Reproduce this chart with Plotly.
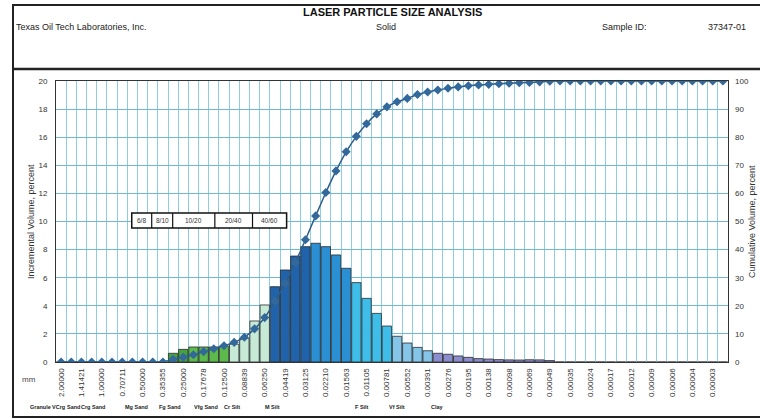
import plotly.graph_objects as go

# ---------------- data ----------------
size_labels = ["2.00000", "1.41421", "1.00000", "0.70711", "0.50000", "0.35355", "0.25000",
               "0.17678", "0.12500", "0.08839", "0.06250", "0.04419", "0.03125", "0.02210",
               "0.01563", "0.01105", "0.00781", "0.00552", "0.00391", "0.00276", "0.00195",
               "0.00138", "0.00098", "0.00069", "0.00049", "0.00035", "0.00024", "0.00017",
               "0.00012", "0.00009", "0.00006", "0.00004", "0.00003"]

incremental = [0, 0, 0, 0, 0, 0, 0, 0, 0, 0, 0,
               0.62, 0.90, 1.07, 1.07, 1.07, 1.12, 1.27, 1.69, 2.92, 4.06,
               5.36, 6.55, 7.54, 8.21, 8.45, 8.21, 7.62, 6.67, 5.65, 4.53,
               3.46, 2.56, 1.83, 1.35, 1.04, 0.80, 0.62, 0.55, 0.43, 0.33,
               0.24, 0.21, 0.17, 0.15, 0.14, 0.16, 0.15, 0.10,
               0, 0, 0, 0, 0, 0, 0, 0, 0, 0, 0, 0, 0, 0, 0, 0, 0]

cumulative = [0, 0, 0, 0, 0, 0, 0, 0, 0, 0, 0,
              1.0, 1.7, 2.6, 3.7, 4.7, 5.8, 7.0, 8.8, 11.8, 15.8,
              21.6, 28.0, 35.4, 43.5, 52.0, 60.3, 68.0, 74.8, 80.3, 84.8,
              88.3, 90.8, 92.6, 93.8, 95.2, 96.1, 96.8, 97.4, 97.9, 98.3,
              98.6, 98.8, 99.0, 99.2, 99.4, 99.5, 99.7, 99.9,
              100, 100, 100, 100, 100, 100, 100, 100, 100, 100, 100, 100, 100, 100, 100, 100, 100]

size_classes = ["Granule", "VCrg", "Sand", "Crg Sand", "Mg Sand", "Fg Sand", "Vfg Sand",
                "Cr Silt", "M Silt", "F Silt", "Vf Silt", "Clay"]

sieve_labels = ["6/8", "8/10", "10/20", "20/40", "40/60"]

# ---------------- layout helpers ----------------
W, H = 760, 419
PL, PR, PT, PB = 56, 728, 81, 362


def px(x):
    return (x - PL) / (PR - PL)


def py(y):
    return (PB - y) / (PB - PT)


n = len(incremental)
xs = list(range(n))


def bar_color(i):
    if i <= 12:
        return "#45a23e"
    if i <= 16:
        return "#5cba4a"
    if i <= 20:
        return "#c6ead5"
    if i <= 24:
        return "#2163ab"
    if i <= 28:
        return "#2a8fd3"
    if i <= 32:
        return "#3dbde7"
    if i <= 36:
        return "#84c5e8"
    return "#8c8dcf"


FONT = "Liberation Sans, Arial, sans-serif"
TXT = "#2a2a2a"

fig = go.Figure()
fig.add_trace(go.Bar(
    x=xs, y=incremental,
    marker=dict(color=[bar_color(i) for i in xs], line=dict(color="#2a2a2a", width=0.8)),
    showlegend=False, hoverinfo="skip"))
fig.add_trace(go.Scatter(
    x=xs, y=cumulative, yaxis="y2", mode="lines+markers",
    line=dict(color="#2c5d88", width=1.5, shape="spline", smoothing=0.5),
    marker=dict(symbol="diamond", size=7, color="#33689a"),
    showlegend=False, hoverinfo="skip"))

fig.update_layout(
    width=W, height=H,
    margin=dict(l=PL, r=W - PR, t=PT, b=H - PB, pad=0),
    paper_bgcolor="white", plot_bgcolor="white",
    bargap=0.08,
    font=dict(family=FONT, size=8, color=TXT),
    xaxis=dict(
        range=[-0.5, n - 0.5],
        tickmode="array",
        tickvals=[2 * k for k in range(len(size_labels))],
        ticktext=size_labels,
        tickangle=-90,
        tickfont=dict(size=8, color="#333"),
        showgrid=False,
        minor=dict(tickmode="array", tickvals=[i + 0.5 for i in range(n - 1)],
                   showgrid=True, gridcolor="#8fcde0", gridwidth=1.2, ticks=""),
        showline=True, linecolor="#333", linewidth=1, mirror=True,
        zeroline=False, ticks="", ticklabelstandoff=2,
    ),
    yaxis=dict(
        range=[0, 20], dtick=2, showgrid=True, gridcolor="#6fbad0", gridwidth=1.1,
        showline=True, linecolor="#333", linewidth=1, mirror=True,
        zeroline=False, ticks="", ticklabelstandoff=6,
        tickfont=dict(size=8, color="#333"),
    ),
    yaxis2=dict(
        range=[0, 100], dtick=10, overlaying="y", side="right", showgrid=False,
        zeroline=False, ticks="", ticklabelstandoff=6,
        tickfont=dict(size=8, color="#333"),
    ),
)

shapes = []
annotations = []

# outer frame and header divider
shapes.append(dict(type="rect", xref="paper", yref="paper",
                   x0=px(13), x1=px(770), y0=py(417), y1=py(5),
                   line=dict(color="#222", width=2)))
shapes.append(dict(type="line", xref="paper", yref="paper",
                   x0=px(13), x1=px(770), y0=py(69), y1=py(69),
                   line=dict(color="#222", width=2.5)))

# header texts
annotations.append(dict(text="<b>LASER PARTICLE SIZE ANALYSIS</b>", xref="paper", yref="paper",
                        x=px(392), y=py(12), showarrow=False, xanchor="center", yanchor="middle",
                        font=dict(size=11, color="#111")))
annotations.append(dict(text="Texas Oil Tech Laboratories, Inc.", xref="paper", yref="paper",
                        x=px(14), y=py(27), showarrow=False, xanchor="left", yanchor="middle",
                        font=dict(size=9, color="#222")))
annotations.append(dict(text="Solid", xref="paper", yref="paper",
                        x=px(386), y=py(27), showarrow=False, xanchor="center", yanchor="middle",
                        font=dict(size=9, color="#222")))
annotations.append(dict(text="Sample ID:", xref="paper", yref="paper",
                        x=px(600), y=py(27), showarrow=False, xanchor="left", yanchor="middle",
                        font=dict(size=9, color="#222")))
annotations.append(dict(text="37347-01", xref="paper", yref="paper",
                        x=px(706), y=py(27), showarrow=False, xanchor="left", yanchor="middle",
                        font=dict(size=9, color="#222")))

# axis titles
annotations.append(dict(text="Incremental Volume, percent", xref="paper", yref="paper",
                        x=px(31), y=py(222), textangle=-90, showarrow=False,
                        xanchor="center", yanchor="middle", font=dict(size=9, color="#333")))
annotations.append(dict(text="Cumulative Volume, percent", xref="paper", yref="paper",
                        x=px(752), y=py(222), textangle=-90, showarrow=False,
                        xanchor="center", yanchor="middle", font=dict(size=9, color="#333")))
annotations.append(dict(text="mm", xref="paper", yref="paper",
                        x=px(29), y=py(379), showarrow=False,
                        xanchor="center", yanchor="middle", font=dict(size=8, color="#444")))

# size class row
class_x = [40, 58, 73, 93, 136, 170, 206, 232, 272, 362, 397, 437]
for name, cx in zip(size_classes, class_x):
    annotations.append(dict(text="<b>" + name + "</b>", xref="paper", yref="paper",
                            x=px(cx), y=py(407), showarrow=False,
                            xanchor="center", yanchor="middle",
                            font=dict(size=5.5, color="#222")))

# sieve mesh box (data coordinates)
edges = [6.94, 8.9, 10.96, 15.1, 18.8, 22.15]
yb, yt = 9.54, 10.6
shapes.append(dict(type="rect", xref="x", yref="y", x0=edges[0], x1=edges[-1], y0=yb, y1=yt,
                   fillcolor="white", line=dict(color="#111", width=1.5), layer="above"))
for e in edges[1:-1]:
    shapes.append(dict(type="line", xref="x", yref="y", x0=e, x1=e, y0=yb, y1=yt,
                       line=dict(color="#111", width=1.2)))
for k, lab in enumerate(sieve_labels):
    annotations.append(dict(text=lab, xref="x", yref="y",
                            x=(edges[k] + edges[k + 1]) / 2, y=(yb + yt) / 2,
                            showarrow=False, xanchor="center", yanchor="middle",
                            font=dict(size=6.5, color="#333")))

fig.update_layout(shapes=shapes, annotations=annotations)
fig.write_html("out.html")
